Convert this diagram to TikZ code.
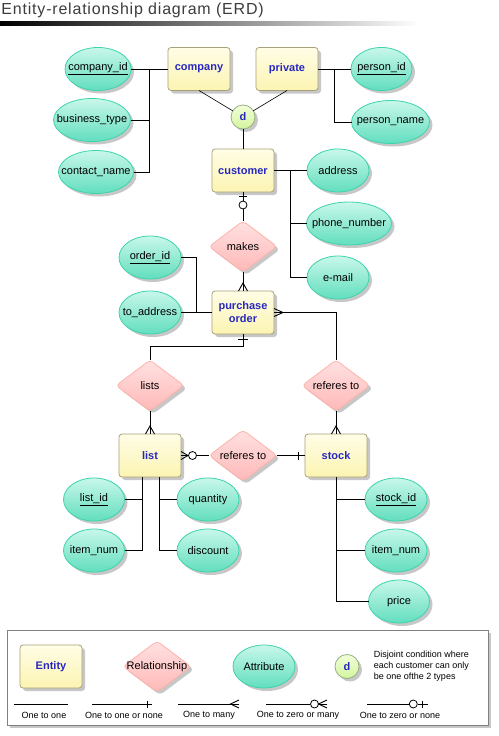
\documentclass[tikz,border=0pt]{standalone}
\usepackage{fontspec}
\setmainfont{Liberation Sans}
\newfontfamily\titlefont[LetterSpace=5]{Liberation Sans}
\usepackage{tikz}
\usetikzlibrary{shapes,positioning,calc,shadows}
\definecolor{EntityFill}{RGB}{252,244,178}
\definecolor{EntityTop}{RGB}{255,253,230}
\definecolor{EntityLine}{RGB}{168,160,120}
\definecolor{EntityText}{RGB}{40,40,190}
\definecolor{AttrFill}{RGB}{98,222,190}
\definecolor{AttrTop}{RGB}{200,247,234}
\definecolor{AttrLine}{RGB}{60,212,172}
\definecolor{RelFill}{RGB}{255,184,184}
\definecolor{RelTop}{RGB}{255,225,225}
\definecolor{RelLine}{RGB}{255,178,168}
\definecolor{DisjFill}{RGB}{212,244,158}
\definecolor{DisjTop}{RGB}{242,255,218}
\definecolor{DisjLine}{RGB}{150,176,130}
\definecolor{TitleGray}{RGB}{60,60,60}

\begin{document}
\begin{tikzpicture}[
    x=1pt, y=-1pt,
    node distance=20pt and 28pt,
    line width=0.9pt,
    softshadow/.style={drop shadow={shadow xshift=3pt, shadow yshift=-3pt, opacity=0.22, fill=black}},
    entity/.style={rectangle, rounded corners=3pt, draw=EntityLine, line width=0.8pt, top color=EntityTop, bottom color=EntityFill, minimum width=62pt, minimum height=43pt, outer sep=0pt, align=center, text=EntityText, font=\fontsize{11}{13}\selectfont\bfseries, softshadow},
    relation/.style={diamond, rounded corners=4pt, draw=RelLine, line width=0.8pt, top color=RelTop, bottom color=RelFill, minimum width=68pt, minimum height=51pt, inner xsep=-40pt, inner ysep=-12pt, outer sep=0pt, font=\fontsize{11}{13}\selectfont, softshadow},
    attrib/.style={ellipse, draw=AttrLine, line width=0.8pt, top color=AttrTop, bottom color=AttrFill, minimum width=62pt, minimum height=43pt, inner xsep=-40pt, inner ysep=0pt, outer sep=0pt, font=\fontsize{11}{13}\selectfont, softshadow},
    disjoint/.style={circle, draw=DisjLine, line width=0.8pt, top color=DisjTop, bottom color=DisjFill, minimum size=24pt, inner sep=0pt, outer sep=0pt, text=EntityText, font=\fontsize{11}{13}\selectfont\bfseries, softshadow},
    zeroring/.style={circle, draw, fill=white, line width=0.8pt, minimum size=8pt, inner sep=0pt},
    legendtext/.style={font=\fontsize{9}{11}\selectfont, inner sep=0pt},
  ]
    \useasboundingbox (0,0) rectangle (498,736);

    \node[anchor=base west, inner sep=0pt, text=TitleGray, font=\titlefont\fontsize{16}{18}\selectfont] (title) at (1,14.5) {Entity-relationship diagram (ERD)};
    \shade[left color=black, right color=white] (0,21) rectangle (420,25);

    \node[entity] (company) at (199,69) {company};
    \node[entity, right=26pt of company] (private) {private};
    \node[disjoint] (d) at (243,117) {d};
    \node[entity, below=20pt of d] (customer) {customer};
    \node[relation, below=29pt of customer] (makes) {makes};
    \node[entity, below=19pt of makes] (po) {purchase\\order};
    \node[relation, below=96pt of po] (refls) {referes to};
    \node[entity, left=28pt of refls] (list) {list};
    \node[entity, right=28pt of refls] (stock) {stock};
    \node[relation, above=23pt of list] (lists) {lists};
    \node[relation, above=23pt of stock] (refpo) {referes to};

    \node[attrib, minimum width=66pt, left=37pt of company] (compid) {\underline{company\_id}};
    \node[attrib, minimum width=77pt, below=8pt of compid, xshift=-6pt] (btype) {business\_type};
    \node[attrib, minimum width=75pt, below=9pt of btype, xshift=4pt] (cname) {contact\_name};
    \node[attrib, minimum width=61pt, right=33pt of private] (pid) {\underline{person\_id}};
    \node[attrib, minimum width=78pt, below=10pt of pid, xshift=9pt] (pname) {person\_name};
    \node[attrib, right=33pt of customer] (addr) {address};
    \node[attrib, minimum width=85pt, below=10pt of addr, xshift=11pt] (phone) {phone\_number};
    \node[attrib, below=11pt of phone, xshift=-11pt] (email) {e-mail};
    \node[attrib, left=31pt of po] (toaddr) {to\_address};
    \node[attrib, above=12pt of toaddr] (oid) {\underline{order\_id}};
    \node[attrib, minimum width=61pt, below=1pt of list, xshift=-56pt] (lid) {\underline{list\_id}};
    \node[attrib, minimum width=61pt, below=8pt of lid] (inum) {item\_num};
    \node[attrib, below=1pt of list, xshift=58pt] (qty) {quantity};
    \node[attrib, below=8pt of qty] (disc) {discount};
    \node[attrib, below=1pt of stock, xshift=60pt] (sid) {\underline{stock\_id}};
    \node[attrib, below=8pt of sid] (snum) {item\_num};
    \node[attrib, minimum width=61pt, below=8pt of snum, xshift=3pt] (price) {price};

    \draw[line width=0.6pt] (company.south) -- (d);
    \draw[line width=0.6pt] (private.south) -- (d);
    \draw (d) -- (customer);

    \draw (compid) -- (company);
    \draw (btype.east) -| ($(compid.east)!.5!(company.west)$);
    \draw (cname.east) -| ($(compid.east)!.5!(company.west)$);
    \draw (private) -- (pid);
    \draw (pname.west) -| ($(private.east)!.5!(pid.west)$);
    \draw (customer) -- (addr);
    \draw (phone.west) -| ($(customer.east)!.5!(addr.west)$);
    \draw (email.west) -| ($(customer.east)!.5!(addr.west)$);
    \draw (toaddr) -- (po);
    \draw (oid.east) -| ($(toaddr.east)!.5!(po.west)$);

    \draw (customer) -- (makes);
    \draw ([xshift=-4pt,yshift=-4pt]customer.south) -- ++(8,0);
    \node[zeroring] (cring) at ([yshift=-13pt]customer.south) {};
    \draw (makes) -- (po);
    \draw ([xshift=-4.5pt]po.north) -- ++(4.5,-8) -- ++(4.5,8);

    \draw (po.east) -| (refpo.north);
    \draw ([yshift=4pt]po.east) -- ++(9,4) -- ++(-9,4);
    \draw (po.south) -- ++(0,12) -| (lists.north);
    \draw ([xshift=-5pt,yshift=-5.5pt]po.south) -- ++(10,0);

    \draw (lists) -- (list);
    \draw ([xshift=-4.5pt]list.north) -- ++(4.5,-8) -- ++(4.5,8);
    \draw (refpo) -- (stock);
    \draw ([xshift=-4.5pt]stock.north) -- ++(4.5,-8) -- ++(4.5,8);

    \draw (list.east) -- (refls.west);
    \draw ([yshift=4pt]list.east) -- ++(7,4) -- ++(-7,4);
    \node[zeroring] (lring) at ([xshift=11.5pt]list.east) {};
    \draw (refls) -- (stock);
    \draw ([xshift=-6.5pt,yshift=4pt]stock.west) -- ++(0,8);

    \draw (lid.east) -| ([xshift=-7.5pt]list.south);
    \draw (inum.east) -| ([xshift=-7.5pt]list.south);
    \draw (qty.west) -| ([xshift=9.5pt]list.south);
    \draw (disc.west) -| ([xshift=9.5pt]list.south);
    \draw (sid.west) -| (stock.south);
    \draw (snum.west) -| (stock.south);
    \draw (price.west) -| (stock.south);

    \draw[draw=black!50, fill=white, line width=0.8pt, softshadow] (7,630) rectangle (488,725);
    \node[entity] (lent) at (51,666.5) {Entity};
    \node[relation, right=41pt of lent] (lrel) {Relationship};
    \node[attrib, right=42pt of lrel] (lattr) {Attribute};
    \node[disjoint, right=40pt of lattr] (ldisj) {d};
    \node[legendtext, align=left, right=14.5pt of ldisj] (ldesc) {Disjoint condition where\\each customer can only\\be one ofthe 2 types};

    \coordinate (a1) at (14,704);
    \coordinate (a2) at (68,704);
    \draw (a1) -- (a2);
    \coordinate (b1) at (92,704);
    \coordinate (b2) at (152,704);
    \draw (b1) -- (b2);
    \draw ([xshift=-5pt,yshift=3.5pt]b2) -- ++(0,7);
    \coordinate (c1) at (178,704);
    \coordinate (c2) at (239,704);
    \draw (c1) -- (c2);
    \draw ([yshift=4pt]c2) -- ++(-8.5,4) -- ++(8.5,4);
    \coordinate (e1) at (266,704);
    \node[zeroring] (ering) at (314.5,704) {};
    \coordinate (e2) at (327,704);
    \draw (e1) -- (ering) -- (e2);
    \draw ([yshift=4pt]e2) -- ++(-8.5,4) -- ++(8.5,4);
    \coordinate (f1) at (367,704);
    \node[zeroring] (fring) at (413.3,704) {};
    \coordinate (f2) at (428,704);
    \draw (f1) -- (fring) -- (f2);
    \draw ([xshift=-5.5pt,yshift=3.5pt]f2) -- ++(0,7);

    \node[legendtext] (loo) at (44,715) {One to one};
    \node[legendtext] (looon) at (124,715) {One to one or none};
    \node[legendtext] (lom) at (209,715) {One to many};
    \node[legendtext] (lozm) at (298,715) {One to zero or many};
    \node[legendtext] (lozn) at (400,715) {One to zero or none};
  \end{tikzpicture}
\end{document}
